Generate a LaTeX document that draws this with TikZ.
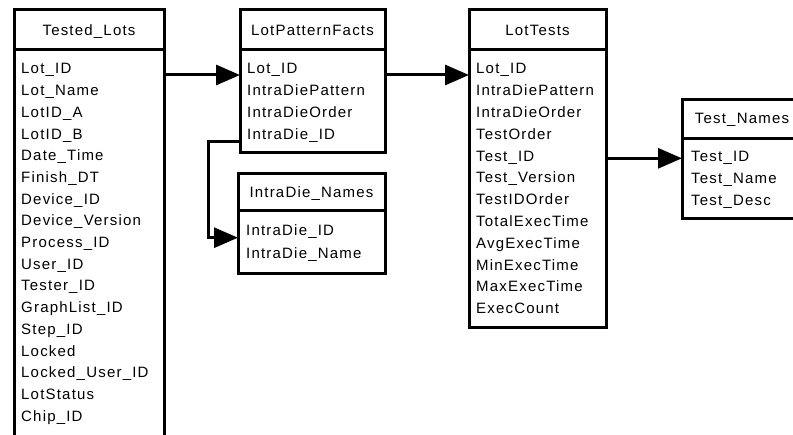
\documentclass[tikz,border=0pt]{standalone}
\usepackage{fontspec}
\setmainfont{Liberation Sans}[LetterSpace=8]
\usetikzlibrary{arrows.meta}
\tikzset{
  tbl/.style={draw, line width=3pt, inner sep=0pt, outer sep=0pt, anchor=north west},
  field/.style={anchor=base west, inner sep=0pt, font=\fontsize{15}{18}\selectfont},
  title/.style={anchor=base, inner sep=0pt, font=\fontsize{15}{18}\selectfont},
  link/.style={line width=3pt, -{Triangle[length=24pt,width=20pt]}},
}
\begin{document}
\begin{tikzpicture}[x=1pt,y=-1pt]
\useasboundingbox (0,0) rectangle (793,435);
\clip (0,0) rectangle (793,435);

% Tested_Lots
\node[tbl, minimum width=150pt, minimum height=40pt] (lotsH) at (14,10) {};
\node[title] (lotsT) at (89,35.5) {Tested\_Lots};
\node[tbl, minimum width=150pt, minimum height=386.5pt] (lots) at (14,50) {};
\foreach \t [count=\i from 0] in {Lot\_ID, Lot\_Name, LotID\_A, LotID\_B, Date\_Time,
  Finish\_DT, Device\_ID, Device\_Version, Process\_ID, User\_ID, Tester\_ID,
  GraphList\_ID, Step\_ID, Locked, Locked\_User\_ID, LotStatus, Chip\_ID}
  \node[field] (lots-\i) at (21,74+21.7*\i) {\t};

% LotPatternFacts
\node[tbl, minimum width=145pt, minimum height=40pt] (lpfH) at (240,10) {};
\node[title] (lpfT) at (312.5,35.5) {LotPatternFacts};
\node[tbl, minimum width=145pt, minimum height=103pt] (lpf) at (240,50) {};
\foreach \t [count=\i from 0] in {Lot\_ID, IntraDiePattern, IntraDieOrder, IntraDie\_ID}
  \node[field] (lpf-\i) at (247,74+21.7*\i) {\t};

% IntraDie_Names
\node[tbl, minimum width=147pt, minimum height=37pt] (idnH) at (238,174) {};
\node[title] (idnT) at (311.5,198) {IntraDie\_Names};
\node[tbl, minimum width=147pt, minimum height=63pt] (idn) at (238,211) {};
\node[field] (idn-0) at (246,236) {IntraDie\_ID};
\node[field] (idn-1) at (246,258.5) {IntraDie\_Name};

% LotTests
\node[tbl, minimum width=137pt, minimum height=40pt] (ltH) at (469,10) {};
\node[title] (ltT) at (537.5,35.5) {LotTests};
\node[tbl, minimum width=137pt, minimum height=278pt] (lt) at (469,50) {};
\foreach \t [count=\i from 0] in {Lot\_ID, IntraDiePattern, IntraDieOrder, TestOrder,
  Test\_ID, Test\_Version, TestIDOrder, TotalExecTime, AvgExecTime, MinExecTime,
  MaxExecTime, ExecCount}
  \node[field] (lt-\i) at (476,74+21.8*\i) {\t};

% Test_Names
\node[tbl, minimum width=120pt, minimum height=39pt] (tnH) at (682,100) {};
\node[title] (tnT) at (742,124) {Test\_Names};
\node[tbl, minimum width=120pt, minimum height=80pt] (tn) at (682,139) {};
\node[field] (tn-0) at (691,161.5) {Test\_ID};
\node[field] (tn-1) at (691,183.5) {Test\_Name};
\node[field] (tn-2) at (691,205.5) {Test\_Desc};

% relations
\draw[link] (lots.east |- 0,75) -- (lpf.west |- 0,75);
\draw[link] (lpf.east |- 0,75) -- (lt.west |- 0,75);
\coordinate (bend) at (208,141.7);
\draw[link] (lpf.west |- bend) -- (bend) |- (idn.west |- 0,237.7);
\draw[link] (lt.east |- 0,158.3) -- (tn.west |- 0,158.3);
\end{tikzpicture}
\end{document}
